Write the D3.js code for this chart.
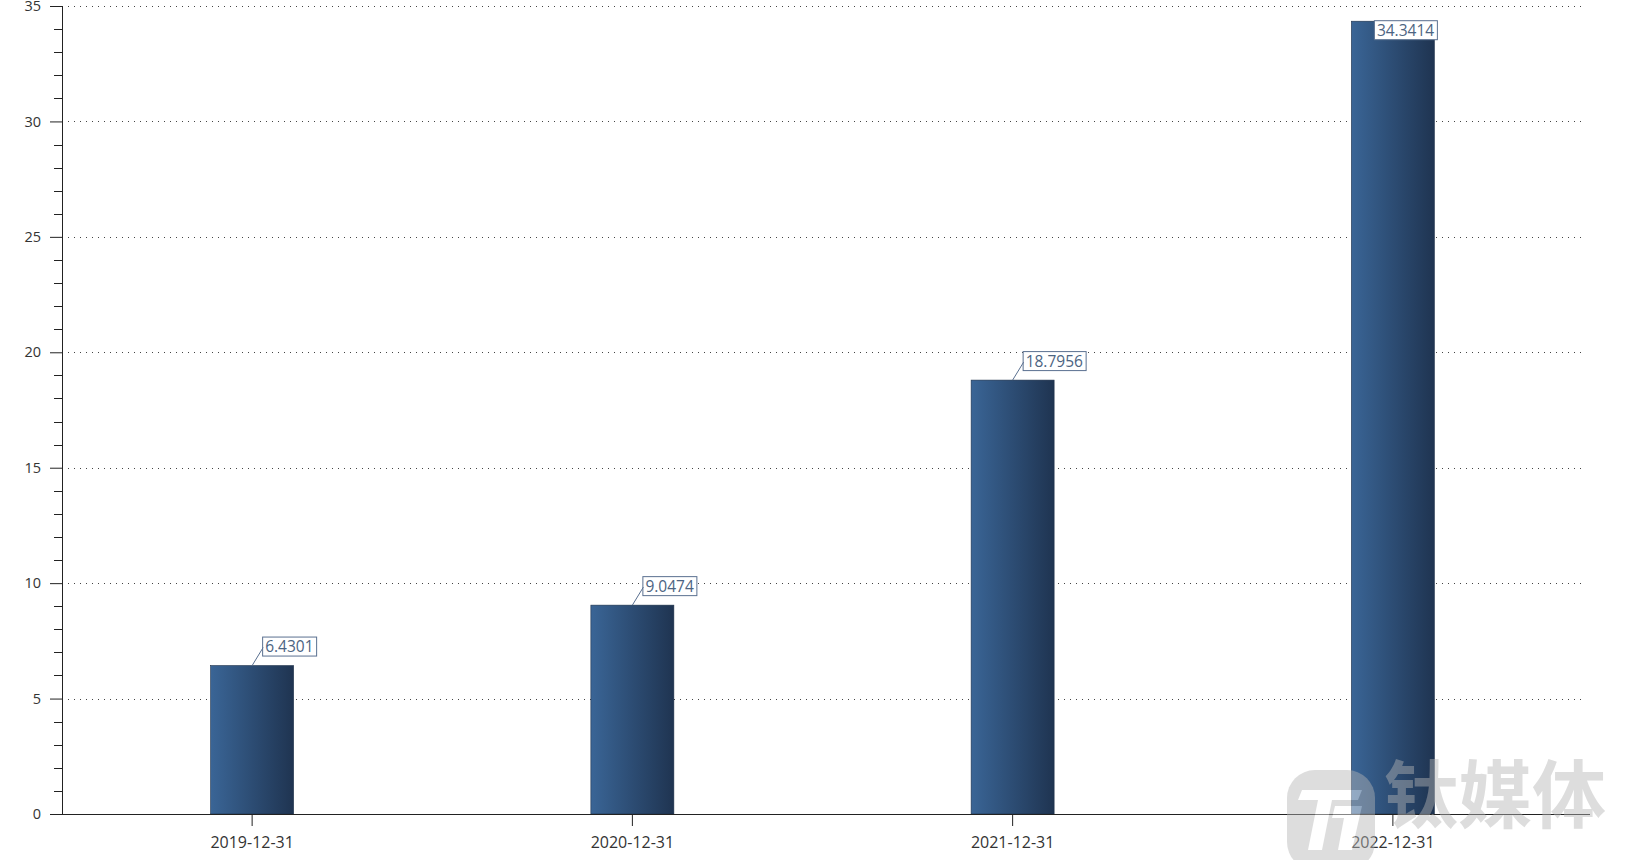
<!DOCTYPE html>
<html><head><meta charset="utf-8">
<script src="https://cdn.jsdelivr.net/npm/d3@7"></script>
<style>
html,body{margin:0;padding:0;background:#fff;}
svg{display:block;font-family:"Open Sans","Noto Sans",sans-serif;}
</style></head>
<body>
<svg id="c" width="1637" height="860"></svg>
<script>
const categories = ["2019-12-31","2020-12-31","2021-12-31","2022-12-31"];
const values = [6.4301, 9.0474, 18.7956, 34.3414];
const yTicks = [0,5,10,15,20,25,30,35];

(function(){
const svg = d3.select("#c");
const pLeft = 62, pRight = 1583, pTop = 6, pBottom = 814;

const x = d3.scaleBand().domain(categories).range([pLeft, pRight]).paddingInner(0).paddingOuter(0);
const y = d3.scaleLinear().domain([0,35]).range([pBottom, pTop]);
const barW = 83;

const defs = svg.append("defs");
const g = defs.append("linearGradient").attr("id","bg").attr("x1","0").attr("x2","1").attr("y1","0").attr("y2","0");
g.append("stop").attr("offset","0%").attr("stop-color","#3a6596");
g.append("stop").attr("offset","100%").attr("stop-color","#1f3451");

// grid
svg.append("g").selectAll("line").data(yTicks.filter(d=>d>0)).join("line")
  .attr("x1",pLeft).attr("x2",pRight).attr("y1",d=>Math.round(y(d))+0.5).attr("y2",d=>Math.round(y(d))+0.5)
  .attr("stroke","#444").attr("stroke-width",1).attr("stroke-dasharray","1,5");

// bars
svg.append("g").selectAll("rect").data(values).join("rect")
  .attr("x",(d,i)=>x(categories[i])+x.bandwidth()/2-barW/2)
  .attr("y",d=>y(d)).attr("width",barW).attr("height",d=>pBottom-y(d))
  .attr("fill","url(#bg)").attr("stroke","#1d3049").attr("stroke-width",0.6);

// y axis
const yAxis = d3.axisLeft(y).tickValues(yTicks).tickSize(12).tickPadding(9);
const ya = svg.append("g").attr("transform",`translate(${pLeft},0)`).call(yAxis);
ya.select(".domain").attr("stroke","#222").attr("d",`M0.5,${pTop}V${pBottom}`);
ya.selectAll(".tick line").attr("stroke","#222");
ya.selectAll(".tick text").attr("font-size",14.5).attr("fill","#333").attr("font-family","Open Sans");
const minor = d3.range(0,36).filter(d=>d%5!==0);
ya.append("g").selectAll("line").data(minor).join("line")
  .attr("x1",-8).attr("x2",0).attr("y1",d=>Math.round(y(d))+0.5).attr("y2",d=>Math.round(y(d))+0.5).attr("stroke","#222");

// x axis
const xAxis = d3.axisBottom(x).tickSize(12).tickPadding(11).tickSizeOuter(0);
const xa = svg.append("g").attr("transform",`translate(0,${pBottom})`).call(xAxis);
xa.select(".domain").attr("stroke","#222").attr("d",`M${pLeft},0.5H1590`);
xa.selectAll(".tick line").attr("stroke","#222");
xa.selectAll(".tick text").attr("font-size",16).attr("fill","#333").attr("font-family","Open Sans");

// labels
const lab = svg.append("g");
values.forEach((v,i)=>{
  const cx = x(categories[i]) + x.bandwidth()/2;
  const ty = y(v);
  const txt = v.toFixed(4);
  let bx = cx + 10, by = ty - 29;
  let leader = true;
  if (by < 2) { bx = cx - 19; by = ty - 1; leader = false; }
  const t = lab.append("text").attr("font-size",15.5).attr("fill","#4c6482").text(txt);
  const w = t.node().getComputedTextLength();
  lab.insert("rect","text").attr("x",bx+0.5).attr("y",by+0.5).attr("width",Math.round(w+6)).attr("height",19)
    .attr("fill","#fff").attr("stroke","#5a7090").attr("stroke-width",1);
  t.attr("x",bx+3).attr("y",by+15.5);
  if (leader) lab.append("line").attr("x1",cx).attr("y1",ty).attr("x2",bx+1).attr("y2",by+11)
    .attr("stroke","#5a7090").attr("stroke-width",1);
});

// watermark
const wm = svg.append("g").attr("opacity",0.45);
wm.append("rect").attr("x",1287).attr("y",770).attr("width",88).attr("height",100).attr("rx",28).attr("fill","#b5b5b5");
wm.append("path").attr("d","M1302 790 L1362 790 L1358 800 L1332 800 L1322 850 L1308 850 L1318 800 L1298 800 Z").attr("fill","#fff");
wm.append("path").attr("d","M1335 806 L1362 806 L1352 850 L1338 850 L1344 818 L1332 818 Z").attr("fill","#fff");
wm.append("text").attr("x",1384).attr("y",822).attr("font-size",74).attr("font-weight","bold")
  .attr("fill","#b5b5b5").attr("font-family","'Noto Sans CJK SC',sans-serif").text("钛媒体");
})();
</script>
</body></html>
